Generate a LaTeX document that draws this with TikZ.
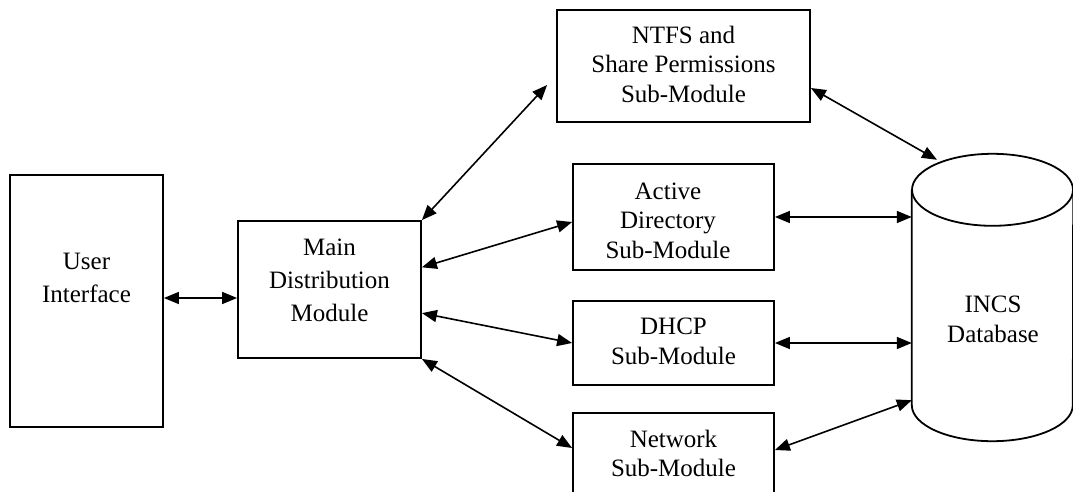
\documentclass[tikz,border=0pt]{standalone}
\usepackage{fontspec}
\setmainfont{Liberation Serif}
\usetikzlibrary{arrows.meta,calc}
\begin{document}
\begin{tikzpicture}[x=1pt,y=-1pt,
  boxstyle/.style={draw,line width=1.8pt,inner sep=0pt,rectangle},
  txtwide/.style={inner sep=0pt,align=center,font=\fontsize{25pt}{33pt}\selectfont},
  txtnarrow/.style={inner sep=0pt,align=center,font=\fontsize{25pt}{29.5pt}\selectfont},
  arr/.style={line width=1.6pt,{Triangle[length=15pt,width=12pt]}-{Triangle[length=15pt,width=12pt]}}]
\useasboundingbox (0,0) rectangle (1073,492);
\clip (0,0) rectangle (1073,492);
% boxes
\node[boxstyle,minimum width=153pt,minimum height=252pt] (ui) at (86.5,301) {};
\node[boxstyle,minimum width=183pt,minimum height=137pt] (main) at (329.5,289.5) {};
\node[boxstyle,minimum width=253pt,minimum height=112pt] (ntfs) at (683.5,66) {};
\node[boxstyle,minimum width=201pt,minimum height=106pt] (ad) at (673.5,217) {};
\node[boxstyle,minimum width=201pt,minimum height=84pt] (dhcp) at (673.5,343) {};
\node[boxstyle,minimum width=201pt,minimum height=90pt] (net) at (673.5,458) {};
% texts
\node[txtwide] (uiT) at (86.5,278.2) {User\\Interface};
\node[txtwide] (mainT) at (329.5,280.2) {Main\\Distribution\\Module};
\node[txtnarrow] (ntfsT) at (683.5,64) {NTFS and\\Share Permissions\\Sub-Module};
\node[txtnarrow] (adT) at (668,220.5) {Active\\Directory\\Sub-Module};
\node[txtnarrow] (dhcpT) at (673.5,341.5) {DHCP\\Sub-Module};
\node[txtnarrow] (netT) at (673.5,453.5) {Network\\Sub-Module};
% database cylinder
\node[inner sep=0pt,minimum width=161pt,minimum height=215pt] (db) at (992.5,297.5) {};
\draw[line width=1.8pt] (db.north west) -- (db.south west)
  arc[start angle=180,end angle=0,x radius=80.5,y radius=36] -- (db.north east);
\draw[line width=1.8pt] (db.north) ellipse[x radius=80.5,y radius=36];
\node[txtnarrow] (dbT) at (993,319.5) {INCS\\Database};
\coordinate (dbtop) at ($(db.north)+(-55.5,-30)$);
% connectors
\draw[arr] ($(ui.east)+(0,-3)$) coordinate (a1) -- (a1 -| main.west);
\draw[arr] (main.north east) -- ($(ntfs.west)+(-9,19)$);
\draw[arr] ($(main.north east)!0.34!(main.south east)$) -- ($(ad.west)+(0,5)$);
\draw[arr] ($(main.north east)!0.67!(main.south east)$) -- (dhcp.west);
\draw[arr] (main.south east) -- ($(net.west)+(0,-10)$);
\draw[arr] ($(ntfs.east)+(0,22)$) -- (dbtop);
\draw[arr] (ad.east) -- (ad.east -| db.west);
\draw[arr] (dhcp.east) -- (dhcp.east -| db.west);
\draw[arr] ($(net.east)+(0,-8)$) -- ($(db.south west)+(0,-5)$);
\end{tikzpicture}
\end{document}
